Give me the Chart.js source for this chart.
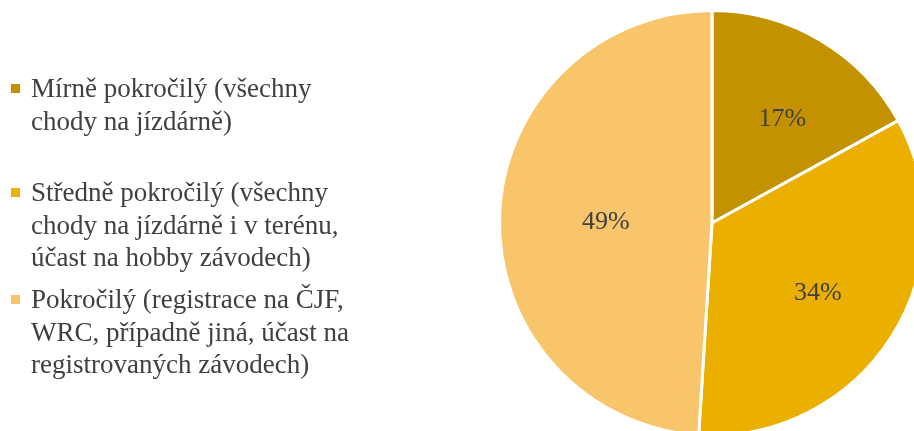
<!DOCTYPE html>
<html>
<head>
<meta charset="utf-8">
<script src="https://cdn.jsdelivr.net/npm/chart.js@4.4.0/dist/chart.umd.min.js"></script>
<style>
  html, body { margin: 0; padding: 0; background: #ffffff; overflow: hidden; width: 914px; height: 431px; }
  #wrap { position: absolute; left: 0; top: 0; width: 940px; height: 446px; }
  #legend { position: absolute; left: 0; top: 0; font-family: "Liberation Serif", "Times New Roman", serif; font-size: 27px; color: #404040; }
  .item { position: absolute; left: 31px; line-height: 32.5px; white-space: nowrap; }
  .mark { position: absolute; left: -20px; width: 9px; height: 9px; top: 12px; }
</style>
</head>
<body>
<div id="wrap"><canvas id="c"></canvas></div>
<div id="legend"></div>
<script>
const categories = [
  ["Mírně pokročilý (všechny", "chody na jízdárně)"],
  ["Středně pokročilý (všechny", "chody na jízdárně i v terénu,", "účast na hobby závodech)"],
  ["Pokročilý (registrace na ČJF,", "WRC, případně jiná, účast na", "registrovaných závodech)"]
];
const values = [17, 34, 49];
const percentLabels = ["17%", "34%", "49%"];
const colors = ["#C49200", "#EBAF00", "#F8C56B"];

// HTML legend built from the data
const legendTops = [72, 176, 283];
const legend = document.getElementById('legend');
categories.forEach((lines, i) => {
  const d = document.createElement('div');
  d.className = 'item';
  d.style.top = legendTops[i] + 'px';
  const m = document.createElement('span');
  m.className = 'mark';
  m.style.background = colors[i];
  d.appendChild(m);
  d.appendChild(document.createTextNode(lines[0]));
  lines.slice(1).forEach(t => { d.appendChild(document.createElement('br')); d.appendChild(document.createTextNode(t)); });
  legend.appendChild(d);
});

const labelRadius = [0.6, 0.59, 0.5];
const sliceLabels = {
  id: 'sliceLabels',
  afterDatasetsDraw(chart) {
    const ctx = chart.ctx;
    const meta = chart.getDatasetMeta(0);
    ctx.save();
    ctx.font = '26px "Liberation Serif", "Times New Roman", serif';
    ctx.fillStyle = '#404040';
    ctx.textAlign = 'center';
    ctx.textBaseline = 'middle';
    meta.data.forEach((arc, i) => {
      const p = arc.getProps(['x', 'y', 'startAngle', 'endAngle', 'outerRadius'], true);
      const mid = (p.startAngle + p.endAngle) / 2 + (i === 0 ? 0.05 : 0);
      const r = p.outerRadius * labelRadius[i];
      ctx.fillText(percentLabels[i], p.x + Math.cos(mid) * r, p.y + Math.sin(mid) * r + 3);
    });
    ctx.restore();
  }
};

new Chart(document.getElementById('c'), {
  type: 'pie',
  data: {
    labels: categories.map(l => l.join(' ')),
    datasets: [{
      data: values,
      backgroundColor: colors,
      borderColor: '#ffffff',
      borderWidth: 3
    }]
  },
  options: {
    responsive: true,
    maintainAspectRatio: false,
    animation: false,
    layout: { padding: { left: 498, right: 14, top: 9, bottom: 9 } },
    plugins: { legend: { display: false }, tooltip: { enabled: false } }
  },
  plugins: [sliceLabels]
});
</script>
</body>
</html>
